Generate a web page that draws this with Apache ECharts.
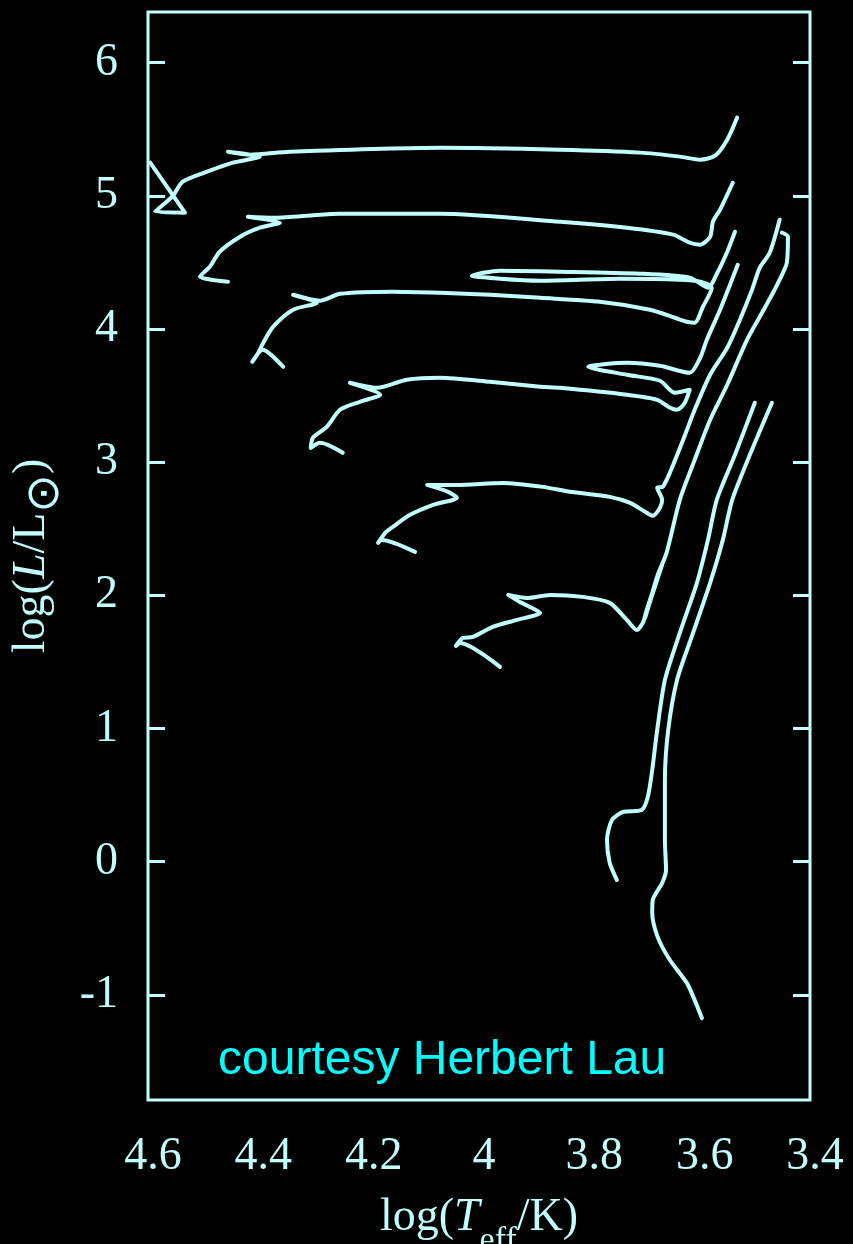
<!DOCTYPE html>
<html>
<head>
<meta charset="utf-8">
<script src="https://cdn.jsdelivr.net/npm/echarts@6/dist/echarts.min.js"></script>
<style>
html,body{margin:0;padding:0;background:#000;}
#chart{width:853px;height:1244px;}
</style>
</head>
<body>
<div id="chart"></div>
<script>
// Tick values
const xTicks = [3.4, 3.6, 3.8, 4.0, 4.2, 4.4, 4.6];
const yTicks = [-1, 0, 1, 2, 3, 4, 5, 6];

// Evolutionary tracks: [log Teff, log L]
const track1 = [[4.596,5.249],[4.533,4.873],[4.587,4.881],[4.556,4.993],[4.537,5.106],[4.493,5.181],[4.446,5.249],[4.397,5.294],[4.455,5.331],[4.415,5.309],[4.343,5.331],[4.071,5.361],[3.853,5.346],[3.708,5.324],[3.636,5.294],[3.599,5.271],[3.572,5.301],[3.550,5.421],[3.532,5.587]];
const track2 = [[4.455,4.355],[4.506,4.392],[4.488,4.467],[4.470,4.580],[4.433,4.693],[4.397,4.760],[4.361,4.798],[4.419,4.843],[4.373,4.835],[4.312,4.850],[4.252,4.865],[4.071,4.865],[3.853,4.805],[3.732,4.760],[3.648,4.708],[3.618,4.648],[3.599,4.633],[3.581,4.693],[3.576,4.805],[3.563,4.896],[3.540,5.098]];
const track3 = [[4.355,3.716],[4.392,3.844],[4.411,3.754],[4.401,3.814],[4.390,3.904],[4.373,4.017],[4.337,4.144],[4.294,4.197],[4.337,4.257],[4.288,4.212],[4.252,4.264],[4.156,4.280],[4.071,4.272],[3.980,4.257],[3.889,4.234],[3.781,4.204],[3.690,4.144],[3.645,4.084],[3.623,4.054],[3.609,4.047],[3.594,4.167],[3.578,4.310],[3.599,4.355],[3.636,4.370],[3.745,4.377],[3.889,4.362],[3.962,4.377],[4.013,4.400],[3.962,4.437],[3.853,4.430],[3.708,4.415],[3.618,4.385],[3.585,4.310],[3.567,4.430],[3.550,4.580],[3.536,4.730]];
const track4 = [[4.247,3.070],[4.288,3.145],[4.305,3.107],[4.301,3.183],[4.276,3.265],[4.252,3.393],[4.216,3.453],[4.179,3.506],[4.234,3.596],[4.185,3.558],[4.131,3.618],[4.071,3.633],[3.980,3.603],[3.889,3.566],[3.853,3.558],[3.732,3.506],[3.677,3.468],[3.654,3.408],[3.641,3.393],[3.628,3.438],[3.618,3.543],[3.645,3.521],[3.672,3.611],[3.732,3.656],[3.802,3.716],[3.732,3.746],[3.672,3.723],[3.618,3.671],[3.599,3.784],[3.587,3.919],[3.563,4.144],[3.545,4.332],[3.531,4.482]];
const track5 = [[4.116,2.326],[4.176,2.416],[4.183,2.394],[4.170,2.469],[4.156,2.514],[4.125,2.604],[4.083,2.679],[4.040,2.732],[4.056,2.777],[4.094,2.829],[4.040,2.829],[3.957,2.844],[3.884,2.814],[3.835,2.777],[3.763,2.739],[3.726,2.694],[3.699,2.627],[3.685,2.597],[3.672,2.657],[3.668,2.717],[3.677,2.807],[3.667,2.814],[3.654,2.920],[3.630,3.167],[3.609,3.393],[3.581,3.656],[3.550,3.859],[3.527,4.069],[3.505,4.295],[3.491,4.460],[3.473,4.572],[3.455,4.820]];
const track6 = [[3.962,1.462],[4.034,1.642],[4.042,1.620],[4.029,1.680],[4.011,1.687],[3.975,1.763],[3.931,1.815],[3.889,1.868],[3.908,1.913],[3.926,1.950],[3.947,2.003],[3.913,1.980],[3.871,2.003],[3.812,1.988],[3.763,1.943],[3.732,1.815],[3.714,1.740],[3.703,1.793],[3.696,1.890],[3.681,2.078],[3.668,2.228],[3.686,2.003],[3.699,1.830],[3.676,2.153],[3.660,2.318],[3.636,2.717],[3.609,3.017],[3.581,3.318],[3.550,3.581],[3.514,3.919],[3.491,4.092],[3.467,4.272],[3.455,4.370],[3.442,4.497],[3.440,4.693],[3.451,4.723]];
const track7 = [[3.750,-0.138],[3.763,-0.011],[3.768,0.162],[3.759,0.312],[3.739,0.373],[3.705,0.388],[3.694,0.485],[3.686,0.688],[3.677,0.989],[3.663,1.364],[3.636,1.717],[3.605,2.093],[3.585,2.416],[3.569,2.717],[3.536,3.055],[3.500,3.446]];
const track8 = [[3.596,-1.175],[3.609,-1.040],[3.623,-0.912],[3.654,-0.739],[3.676,-0.567],[3.686,-0.386],[3.685,-0.288],[3.668,-0.161],[3.661,-0.063],[3.663,0.162],[3.663,0.613],[3.657,0.989],[3.641,1.364],[3.612,1.717],[3.581,2.093],[3.558,2.416],[3.541,2.717],[3.509,3.055],[3.469,3.446]];

const tracks = [track1, track2, track3, track4, track5, track6, track7, track8];

const FG = '#c2ffff';
const chart = echarts.init(document.getElementById('chart'), null, {renderer: 'canvas'});

const tickStyle = {show: true, inside: true, length: 17, lineStyle: {color: FG, width: 3}};
const labelFont = {color: FG, fontFamily: 'Liberation Serif', fontSize: 46};

const option = {
  backgroundColor: '#000',
  animation: false,
  grid: {left: 148, right: 43, top: 12, bottom: 144, outerBoundsMode: 'none', containLabel: false,
         show: true, borderColor: FG, borderWidth: 3, backgroundColor: 'transparent'},
  xAxis: [{
    type: 'value', inverse: true, min: 3.4, max: 4.6, interval: 0.2, position: 'bottom',
    axisLine: {show: false}, splitLine: {show: false},
    axisTick: {show: false},
    axisLabel: Object.assign({margin: 34, padding: [0, 0, 0, 10], formatter: v => String(+v.toFixed(1))}, labelFont),
    name: '{n|log(}{i|T}{s|eff}{n|/K)}',
    nameLocation: 'middle', nameGap: 78,
    nameTextStyle: {
      rich: {
        n: {fontFamily: 'Liberation Serif', fontSize: 46, color: FG},
        i: {fontFamily: 'Liberation Serif', fontSize: 46, fontStyle: 'italic', color: FG},
        s: {fontFamily: 'Liberation Serif', fontSize: 34, color: FG, padding: [46, 0, 0, 0]}
      }
    }
  }],
  yAxis: [{
    type: 'value', min: -1.79, max: 6.38, position: 'left',
    axisLine: {show: false}, splitLine: {show: false},
    axisTick: Object.assign({customValues: yTicks}, tickStyle),
    axisLabel: Object.assign({customValues: yTicks, margin: 30}, labelFont),
    name: '{n|log(}{i|L}{n|/L}{s|⊙}{n|)}',
    nameLocation: 'middle', nameRotate: 90, nameGap: 74,
    nameTextStyle: {
      rich: {
        n: {fontFamily: 'Liberation Serif', fontSize: 46, color: FG},
        i: {fontFamily: 'Liberation Serif', fontSize: 46, fontStyle: 'italic', color: FG},
        s: {fontFamily: 'DejaVu Sans', fontSize: 46, color: FG, padding: [28, 0, 0, 0]}
      }
    }
  }, {
    type: 'value', min: -1.79, max: 6.38, position: 'right',
    axisLine: {show: false}, splitLine: {show: false},
    axisTick: Object.assign({customValues: yTicks}, tickStyle),
    axisLabel: {show: false}
  }],
  series: tracks.map((t, i) => ({
    type: 'line', name: 'track' + (i + 1), data: t,
    showSymbol: false, symbol: 'none', clip: true, smooth: 0.25,
    lineStyle: {color: FG, width: 4, cap: 'round', join: 'round'},
    emphasis: {disabled: true}
  })),
  graphic: [{
    type: 'text', left: 218, top: 1037,
    style: {text: 'courtesy Herbert Lau', fill: '#00ffff', font: '48px "Liberation Sans"'}
  }]
};
chart.setOption(option);
</script>
</body>
</html>
